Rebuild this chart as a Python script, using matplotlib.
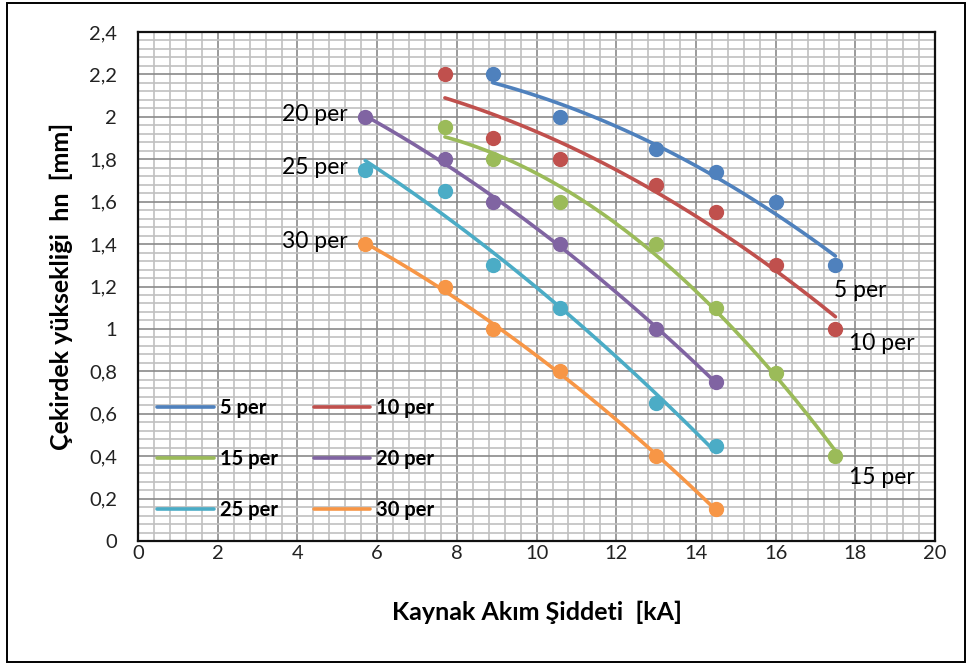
import numpy as np
import matplotlib
matplotlib.use("Agg")
import matplotlib.pyplot as plt
from matplotlib.ticker import MultipleLocator, FuncFormatter
from matplotlib.patches import Rectangle

plt.rcParams['font.family'] = ['Lato', 'DejaVu Sans']

# measured points (current kA, nugget height mm)
x_5 = [8.9, 10.6, 13, 14.5, 16, 17.5]
y_5 = [2.2, 2.0, 1.85, 1.74, 1.6, 1.3]
x_10 = [7.7, 8.9, 10.6, 13, 14.5, 16, 17.5]
y_10 = [2.2, 1.9, 1.8, 1.68, 1.55, 1.3, 1.0]
x_15 = [7.7, 8.9, 10.6, 13, 14.5, 16, 17.5]
y_15 = [1.95, 1.8, 1.6, 1.4, 1.1, 0.79, 0.4]
x_20 = [5.7, 7.7, 8.9, 10.6, 13, 14.5]
y_20 = [2.0, 1.8, 1.6, 1.4, 1.0, 0.75]
x_25 = [5.7, 7.7, 8.9, 10.6, 13, 14.5]
y_25 = [1.75, 1.65, 1.3, 1.1, 0.65, 0.45]
x_30 = [5.7, 7.7, 8.9, 10.6, 13, 14.5]
y_30 = [1.4, 1.2, 1.0, 0.8, 0.4, 0.15]

labels = ['5 per', '10 per', '15 per', '20 per', '25 per', '30 per']
colors = ['#4F81BD', '#C0504D', '#9BBB59', '#8064A2', '#4BACC6', '#F79646']
series = [(x_5, y_5), (x_10, y_10), (x_15, y_15),
          (x_20, y_20), (x_25, y_25), (x_30, y_30)]

fig = plt.figure(figsize=(9.68, 6.64), dpi=100)
ax = fig.add_axes([0.1426, 0.1852, 0.8234, 0.7666])

handles = []
for (xs, ys), lab, col in zip(series, labels, colors):
    xs = np.array(xs); ys = np.array(ys)
    ax.plot(xs, ys, 'o', color=col, markersize=10, zorder=3)
    # 2nd order trendline like the spreadsheet
    p = np.polyfit(xs, ys, 2)
    xx = np.linspace(xs.min(), xs.max(), 100)
    h, = ax.plot(xx, np.polyval(p, xx), '-', color=col, lw=2.6,
                 solid_capstyle='round', zorder=3, label=lab)
    handles.append(h)

ax.set_xlim(0, 20)
ax.set_ylim(0, 2.4)
ax.xaxis.set_major_locator(MultipleLocator(2))
ax.xaxis.set_minor_locator(MultipleLocator(0.4))
ax.yaxis.set_major_locator(MultipleLocator(0.2))
ax.yaxis.set_minor_locator(MultipleLocator(0.04))
ax.yaxis.set_major_formatter(FuncFormatter(
    lambda v, _: ('%g' % round(v, 2)).replace('.', ',')))
ax.grid(which='minor', color='#c0c0c0', lw=1.2, zorder=0)
ax.grid(which='major', color='#8a8a8a', lw=1.2, zorder=1)
ax.set_axisbelow(True)
ax.tick_params(which='both', length=0, labelsize=14.5, colors='#222222')
ax.tick_params(axis='y', pad=15)
ax.tick_params(axis='x', pad=3)
for s in ax.spines.values():
    s.set_linewidth(1.6)
    s.set_color('#111111')

ax.set_xlabel('Kaynak Akım Şiddeti  [kA]', fontsize=18, fontweight='bold', labelpad=28)
ax.set_ylabel('Çekirdek yüksekliği  hn  [mm]', fontsize=18, fontweight='bold', labelpad=12)

# curve labels
ax.text(5.26, 2.01, '20 per', fontsize=16.5, ha='right', va='center')
ax.text(5.26, 1.76, '25 per', fontsize=16.5, ha='right', va='center')
ax.text(5.26, 1.41, '30 per', fontsize=16.5, ha='right', va='center')
ax.text(17.47, 1.18, '5 per', fontsize=16.5, ha='left', va='center')
ax.text(17.84, 0.93, '10 per', fontsize=16.5, ha='left', va='center')
ax.text(17.84, 0.30, '15 per', fontsize=16.5, ha='left', va='center')

# legend fills column-wise, so reorder for row-wise reading
order = [0, 2, 4, 1, 3, 5]
leg = ax.legend(handles=[handles[i] for i in order], ncol=2, loc='lower left',
                bbox_to_anchor=(0.014, 0.025), frameon=False,
                prop={'weight': 'bold', 'size': 14.5}, handlelength=2.8,
                handletextpad=0.3, columnspacing=1.8, labelspacing=1.55,
                borderaxespad=0.0)

fig.patches.append(Rectangle((0.007, 0.003), 0.99, 0.993, transform=fig.transFigure,
                             fill=False, edgecolor='black', lw=1.4))

fig.savefig('out.png', dpi=100)
